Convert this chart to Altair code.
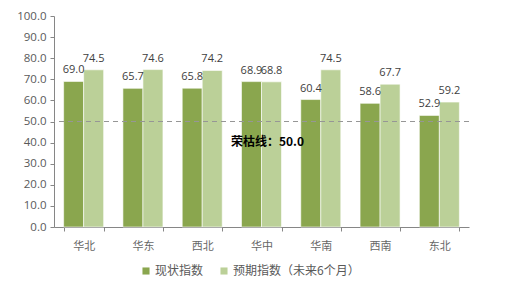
import altair as alt
import pandas as pd

regions = ["华北", "华东", "西北", "华中", "华南", "西南", "东北"]
current = [69.0, 65.7, 65.8, 68.9, 60.4, 58.6, 52.9]
expected = [74.5, 74.6, 74.2, 68.8, 74.5, 67.7, 59.2]
series = ["现状指数", "预期指数（未来6个月）"]
threshold = 50.0
threshold_label = "荣枯线：50.0"

rows = []
for r, c, e in zip(regions, current, expected):
    rows.append({"region": r, "series": series[0], "value": c})
    rows.append({"region": r, "series": series[1], "value": e})
df = pd.DataFrame(rows)

FONT = "Noto Sans CJK SC"
GREY = "#595959"

x_enc = alt.X("region:N", sort=regions, title=None,
              scale=alt.Scale(domain=regions, paddingInner=0.325, paddingOuter=0.1625),
              axis=alt.Axis(labelAngle=0, labelFontSize=11, labelColor="#666666", labelFont=FONT,
                            domainColor="#868686", tickColor="#868686", tickBand="extent",
                            tickSize=4, labelPadding=9, grid=False))
y_enc = alt.Y("value:Q", title=None, scale=alt.Scale(domain=[0, 100]),
              axis=alt.Axis(values=[0, 10, 20, 30, 40, 50, 60, 70, 80, 90, 100], format=".1f",
                            grid=False, labelFontSize=11.5, labelColor=GREY, labelFont="Open Sans",
                            labelOverlap=False, labelFlush=False,
                            domainColor="#868686", tickColor="#868686", tickSize=4,
                            labelPadding=4))
xo = alt.XOffset("series:N", sort=series)

bars = alt.Chart(df).mark_bar(stroke="white", strokeWidth=0.6).encode(
    x=x_enc,
    xOffset=xo,
    y=y_enc,
    color=alt.Color("series:N", sort=series,
                    scale=alt.Scale(domain=series, range=["#8AA64E", "#BBD098"]),
                    legend=alt.Legend(title=None, orient="none", direction="horizontal",
                                      legendX=86, legendY=249, symbolType="square",
                                      symbolSize=50, symbolStrokeWidth=0,
                                      labelFontSize=12, labelColor=GREY, labelFont=FONT,
                                      columnPadding=14, labelOffset=3)),
)

labels = alt.Chart(df).mark_text(baseline="bottom", dy=-6, fontSize=11, color="#404040", font="Open Sans").encode(
    x=x_enc,
    xOffset=xo,
    y=y_enc,
    text=alt.Text("value:Q", format=".1f"),
)

rule_df = pd.DataFrame({"value": [threshold]})
rule = alt.Chart(rule_df).mark_rule(color="#969696", strokeDash=[5, 4], strokeWidth=1).encode(
    y=y_enc
)

ann_df = pd.DataFrame({"region": ["华中"], "value": [40.3], "text": [threshold_label]})
ann = alt.Chart(ann_df).mark_text(fontSize=12, fontWeight="bold", color="black", font=FONT, dx=6).encode(
    x=x_enc,
    y=y_enc,
    text="text:N",
)

chart = alt.layer(bars, labels, rule, ann).properties(
    width=415, height=211,
    background="white",
    autosize=alt.AutoSizeParams(type="none"),
    padding={"left": 54, "top": 16, "right": 54, "bottom": 63},
).configure_view(strokeWidth=0, stroke=None)

chart.save("out.html", embed_options={"renderer": "svg", "actions": False})
